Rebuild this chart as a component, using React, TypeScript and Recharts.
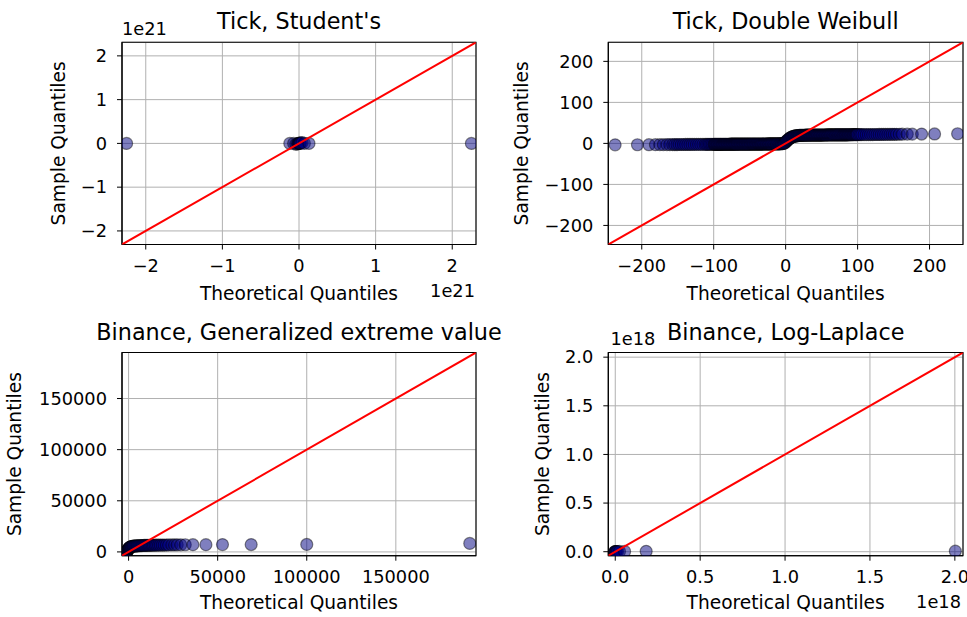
import React from 'react';
import { ScatterChart, Scatter, XAxis, YAxis, CartesianGrid, ReferenceArea } from 'recharts';

const W = 967;
const H = 617;
const FONT = "'DejaVu Sans', 'Liberation Sans', sans-serif";
const XAH = 40; // bottom x-axis band height
const YAW = 60; // left y-axis band width

// ---------- data (sample vs theoretical quantiles) ----------
const studentPts: [number, number][] = [
  [-2.25e21, 0], [-0.12e21, 0], [-0.07e21, 0], [-0.04e21, -0.02e21], [-0.02e21, -0.01e21],
  [-0.01e21, 0], [0, 0], [0.005e21, 0], [0.01e21, 0], [0.02e21, 0.01e21],
  [0.04e21, 0.02e21], [0.07e21, 0], [0.13e21, 0], [2.25e21, 0],
];

const doubleWeibullPts: [number, number][] = [
  [-237, -3.5], [-206, -3.3], [-190, -3.2], [-181, -3.1], [-175, -3.0], [-170, -3.0], [-165, -2.9],
  [-161, -2.9], [-157, -2.8], [-154, -2.8], [-151, -2.8], [-148, -2.7], [-145, -2.7], [-142, -2.7],
  [-139, -2.6], [-136, -2.6], [-133, -2.6], [-130, -2.6], [-127, -2.5], [-124, -2.5], [-121, -2.5],
  [-118, -2.5], [-115, -2.4], [-112, -2.4], [-110, -2.4], [-108, -2.4], [-106, -2.3], [-104, -2.3],
  [-102, -2.3],
  [-100, -2.3], [-99, -2.3], [-98, -2.3], [-97, -2.3], [-96, -2.2], [-95, -2.2], [-94, -2.2], [-93, -2.2], [-92, -2.2], [-91, -2.2],
  [-90, -2.2], [-89, -2.2], [-88, -2.2], [-87, -2.1], [-86, -2.1], [-85, -2.1], [-84, -2.1], [-83, -2.1], [-82, -2.1], [-81, -2.1],
  [-80, -2.1], [-79, -2.1], [-78, -2.1], [-77, -2.0], [-76, -2.0], [-75, -2.0], [-74, -2.0], [-73, -2.0], [-72, -2.0], [-71, -2.0],
  [-70, -2.0], [-69, -2.0], [-68, -2.0], [-67, -1.9], [-66, -1.9], [-65, -1.9], [-64, -1.9], [-63, -1.9], [-62, -1.9], [-61, -1.9],
  [-60, -1.9], [-59, -1.9], [-58, -1.9], [-57, -1.8], [-56, -1.8], [-55, -1.8], [-54, -1.8], [-53, -1.8], [-52, -1.8], [-51, -1.8],
  [-50, -1.8], [-49, -1.8], [-48, -1.8], [-47, -1.7], [-46, -1.7], [-45, -1.7], [-44, -1.7], [-43, -1.7], [-42, -1.7], [-41, -1.7],
  [-40, -1.7], [-39, -1.6], [-38, -1.6], [-37, -1.6], [-36, -1.6], [-35, -1.6], [-34, -1.6], [-33, -1.6], [-32, -1.6], [-31, -1.5],
  [-30, -1.5], [-29, -1.5], [-28, -1.5], [-27, -1.5], [-26, -1.5], [-25, -1.4], [-24, -1.4], [-23, -1.4], [-22, -1.4], [-21, -1.4],
  [-20, -1.4], [-19, -1.3], [-18, -1.3], [-17, -1.3], [-16, -1.3], [-15, -1.2], [-14, -1.2], [-13, -1.2], [-12, -1.2], [-11, -1.1],
  [-10, -1.1], [-9, -1.0], [-8, -1.0], [-7, -0.9], [-6, -0.8], [-5, -0.6], [-4, -0.4], [-3, 0], [-2, 0.5], [-1, 1.5],
  [0, 3], [1, 5], [2, 7], [3, 8.5], [4, 10], [5, 11.5], [6, 13], [7, 14], [8, 15], [9, 15.8],
  [10, 16.5], [11, 17], [12, 17.5], [13, 17.9], [14, 18.2], [15, 18.5], [16, 18.8], [17, 19], [18, 19.2], [19, 19.4],
  [20, 19.5], [21, 19.6], [22, 19.7], [23, 19.7], [24, 19.8], [25, 19.8], [26, 19.9], [27, 19.9], [28, 20], [29, 20],
  [30, 20], [31, 20], [32, 20.1], [33, 20.1], [34, 20.1], [35, 20.1], [36, 20.2], [37, 20.2], [38, 20.2], [39, 20.2],
  [40, 20.3], [41, 20.3], [42, 20.3], [43, 20.3], [44, 20.3], [45, 20.4], [46, 20.4], [47, 20.4], [48, 20.4], [49, 20.4],
  [50, 20.4], [51, 20.5], [52, 20.5], [53, 20.5], [54, 20.5], [55, 20.5], [56, 20.5], [57, 20.6], [58, 20.6], [59, 20.6],
  [60, 20.6], [61, 20.6], [62, 20.6], [63, 20.7], [64, 20.7], [65, 20.7], [66, 20.7], [67, 20.7], [68, 20.7], [69, 20.8],
  [70, 20.8], [71, 20.8], [72, 20.8], [73, 20.8], [74, 20.8], [75, 20.9], [76, 20.9], [77, 20.9], [78, 20.9], [79, 20.9],
  [80, 20.9], [81, 21], [82, 21], [83, 21], [84, 21], [85, 21], [86, 21], [87, 21.1], [88, 21.1], [89, 21.1],
  [90, 21.1], [91, 21.1], [92, 21.1], [93, 21.2], [94, 21.2], [95, 21.2], [96, 21.2], [97, 21.2], [98, 21.2], [99, 21.3],
  [100, 21.3], [102, 21.3], [104, 21.4], [106, 21.4], [109, 21.4], [112, 21.5], [115, 21.5],
  [118, 21.6], [121, 21.6], [124, 21.7], [127, 21.7], [130, 21.8], [133, 21.8], [136, 21.9],
  [139, 21.9], [142, 22], [145, 22], [148, 22.1], [151, 22.1], [154, 22.2], [158, 22.3],
  [162, 22.4], [169, 22.5], [176, 22.6], [189, 22.8], [207, 23], [239, 23.5],
];

const gevPts: [number, number][] = [
  [-1800, -1200], [-1500, -600], [-1200, 0], [-900, 600], [-700, 1100], [-500, 1600], [-300, 2100],
  [-150, 2600], [0, 3000], [150, 3400], [300, 3800], [500, 4100], [700, 4400], [900, 4700],
  [1200, 4900], [1500, 5100], [1800, 5300], [2200, 5450], [2600, 5600], [3000, 5700], [3500, 5800],
  [4000, 5900], [4500, 5950], [5000, 6000], [5600, 6050], [6200, 6100], [6800, 6150], [7400, 6200],
  [8000, 6250], [8700, 6300], [9400, 6330], [10100, 6360], [10800, 6400], [11600, 6430],
  [12400, 6460], [13200, 6500], [14000, 6530], [14900, 6560], [15800, 6600], [16800, 6630],
  [17800, 6660], [18900, 6700], [20000, 6730], [21200, 6760], [22500, 6800], [24300, 6850],
  [25800, 6880], [27300, 6900], [29300, 6950], [31800, 7000], [36100, 7050], [43400, 7100],
  [52700, 7150], [68800, 7200], [100000, 7300], [191500, 8300],
];

const logLaplacePts: [number, number][] = [
  [-0.004e18, -0.003e18], [-0.002e18, -0.001e18], [0, 0], [0.002e18, 0.0005e18],
  [0.004e18, 0.001e18], [0.008e18, 0.0015e18], [0.014e18, 0.002e18], [0.025e18, 0.0025e18],
  [0.055e18, 0.003e18], [0.182e18, 0.004e18], [2.003e18, 0.006e18],
];

const studentTicks = [-2e21, -1e21, 0, 1e21, 2e21];
const weibullTicks = [-200, -100, 0, 100, 200];
const gevTicks = [0, 50000, 100000, 150000];
const laplaceTicks = [0, 0.5e18, 1e18, 1.5e18, 2e18];

const titles = ["Tick, Student's", 'Tick, Double Weibull', 'Binance, Generalized extreme value', 'Binance, Log-Laplace'];
const X_LABEL = 'Theoretical Quantiles';
const Y_LABEL = 'Sample Quantiles';

const minus = (s: string) => s.replace('-', '\u2212');

type Frame = { l: number; t: number; r: number; b: number };
type Panel = {
  pts: [number, number][];
  frame: Frame;
  domain: [number, number];
  ticks: number[];
  fmt: (v: number) => string;
};

const panels: Panel[] = [
  {
    pts: studentPts,
    frame: { l: 122, t: 42.3, r: 476, b: 244.5 },
    domain: [-2.31e21, 2.31e21],
    ticks: studentTicks,
    fmt: (v) => minus(String(Math.round(v / 1e21))),
  },
  {
    pts: doubleWeibullPts,
    frame: { l: 608.3, t: 42.3, r: 963, b: 244.5 },
    domain: [-246.5, 246.5],
    ticks: weibullTicks,
    fmt: (v) => minus(String(v)),
  },
  {
    pts: gevPts,
    frame: { l: 122, t: 352.5, r: 476, b: 555.7 },
    domain: [-3700, 195000],
    ticks: gevTicks,
    fmt: (v) => minus(String(v)),
  },
  {
    pts: logLaplacePts,
    frame: { l: 608.3, t: 352.5, r: 963, b: 555.7 },
    domain: [-0.041e18, 2.048e18],
    ticks: laplaceTicks,
    fmt: (v) => minus((v / 1e18).toFixed(1)),
  },
];

const Dot = (props: any) => {
  const { cx, cy } = props;
  if (cx == null || cy == null) return <g />;
  return (
    <circle
      cx={cx}
      cy={cy}
      r={6}
      fill="#000080"
      fillOpacity={0.5}
      stroke="#000000"
      strokeOpacity={0.45}
      strokeWidth={1.2}
    />
  );
};

const NoDot = () => <g />;

const tickStyle = { fontSize: 17.8, fill: '#000', fontFamily: FONT };

function QQPanel({ p }: { p: Panel }) {
  const f = p.frame;
  const data = p.pts.map(([x, y]) => ({ x, y }));
  const lineData = [
    { x: p.domain[0], y: p.domain[0] },
    { x: p.domain[1], y: p.domain[1] },
  ];
  return (
    <div style={{ position: 'absolute', left: 0, top: 0 }}>
      <ScatterChart
        width={W}
        height={H}
        margin={{ top: f.t, right: W - f.r, bottom: H - f.b - XAH, left: f.l - YAW }}
      >
        <CartesianGrid stroke="#b0b0b0" strokeWidth={1} fill="none" />
        <XAxis
          dataKey="x"
          type="number"
          domain={p.domain}
          allowDataOverflow
          ticks={p.ticks}
          interval={0}
          tickFormatter={p.fmt}
          height={XAH}
          tickSize={5}
          tickMargin={10}
          tick={tickStyle}
          axisLine={{ stroke: '#000', strokeWidth: 1 }}
          tickLine={{ stroke: '#000', strokeWidth: 1 }}
        />
        <YAxis
          dataKey="y"
          type="number"
          domain={p.domain}
          allowDataOverflow
          ticks={p.ticks}
          interval={0}
          tickFormatter={p.fmt}
          width={YAW}
          tickSize={5}
          tickMargin={10}
          tick={tickStyle}
          axisLine={{ stroke: '#000', strokeWidth: 1 }}
          tickLine={{ stroke: '#000', strokeWidth: 1 }}
        />
        <Scatter data={data} shape={Dot} isAnimationActive={false} />
        <Scatter
          data={lineData}
          shape={NoDot}
          line={{ stroke: '#ff0000', strokeWidth: 2 }}
          isAnimationActive={false}
        />
        <ReferenceArea
          x1={p.domain[0]}
          x2={p.domain[1]}
          y1={p.domain[0]}
          y2={p.domain[1]}
          ifOverflow="visible"
          fill="none"
          fillOpacity={0}
          stroke="#000"
          strokeWidth={1.1}
        />
      </ScatterChart>
    </div>
  );
}

const cx = (f: Frame) => (f.l + f.r) / 2;
const cy = (f: Frame) => (f.t + f.b) / 2;

function Texts() {
  const yLabelX = [65, 528, 21, 549];
  const titleBase = [29, 29, 340, 340];
  const xLabelBase = [300, 300, 609, 609];
  return (
    <svg
      width={W}
      height={H}
      style={{ position: 'absolute', left: 0, top: 0, pointerEvents: 'none' }}
      fontFamily={FONT}
    >
      {panels.map((p, i) => (
        <g key={i}>
          <text x={cx(p.frame)} y={titleBase[i]} fontSize={22.3} textAnchor="middle" fill="#000">
            {titles[i]}
          </text>
          <text x={cx(p.frame)} y={xLabelBase[i]} fontSize={18.6} textAnchor="middle" fill="#000">
            {X_LABEL}
          </text>
          <text
            x={yLabelX[i]}
            y={cy(p.frame)}
            fontSize={18.6}
            textAnchor="middle"
            fill="#000"
            transform={`rotate(-90 ${yLabelX[i]} ${cy(p.frame)})`}
          >
            {Y_LABEL}
          </text>
        </g>
      ))}
      <text x={122} y={35} fontSize={17.8} textAnchor="start" fill="#000">1e21</text>
      <text x={475} y={297} fontSize={17.8} textAnchor="end" fill="#000">1e21</text>
      <text x={610.5} y={345} fontSize={17.8} textAnchor="start" fill="#000">1e18</text>
      <text x={961} y={608} fontSize={17.8} textAnchor="end" fill="#000">1e18</text>
    </svg>
  );
}

export default function App() {
  return (
    <div style={{ position: 'absolute', left: 0, top: 0, width: W, height: H, background: '#fff' }}>
      {panels.map((p, i) => (
        <QQPanel key={i} p={p} />
      ))}
      <Texts />
    </div>
  );
}
